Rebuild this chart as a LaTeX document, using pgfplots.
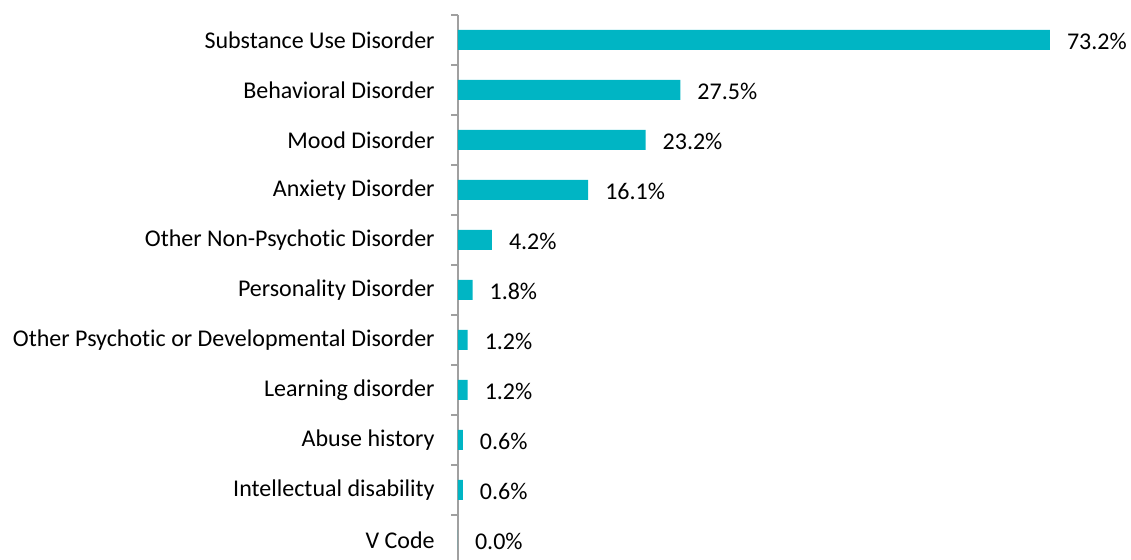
\documentclass[border=0pt]{standalone}
\usepackage{pgfplots}
\pgfplotsset{compat=1.18}
\usepackage{fontspec}
\setmainfont[Ligatures=NoCommon]{Carlito}
\definecolor{barc}{RGB}{0,181,196}
\definecolor{axc}{RGB}{160,160,160}
\begin{document}
\begin{tikzpicture}
\begin{axis}[
  at={(0,0)}, anchor=south west,
  scale only axis,
  width=323.5pt, height=275pt,
  xbar, bar width=10pt,
  xmin=0, xmax=80,
  ymin=-0.5, ymax=10.5,
  y dir=reverse,
  axis x line=none,
  axis y line*=left,
  y axis line style={draw=axc, line width=0.8pt},
  ytick={0,...,10},
  yticklabels={Substance Use Disorder,Behavioral Disorder,Mood Disorder,Anxiety Disorder,Other Non-Psychotic Disorder,Personality Disorder,Other Psychotic or Developmental Disorder,Learning disorder,Abuse history,Intellectual disability,V Code},
  major tick length=0pt,
  minor ytick={-0.5,0.5,...,10.5},
  minor tick length=3.5pt,
  tick align=outside,
  ytick pos=left,
  minor tick style={draw=axc, line width=0.8pt},
  /pgf/number format/assume math mode=true,
  yticklabel style={font=\fontsize{12}{14}\selectfont, text=black, inner sep=0pt, xshift=-11.5pt},
  nodes near coords={\pgfmathprintnumber[fixed,fixed zerofill,precision=1,assume math mode=true]{\pgfplotspointmeta}\%},
  point meta=explicit,
  nodes near coords style={font=\fontsize{12}{14}\selectfont, text=black, anchor=west, xshift=5pt, yshift=-0.5pt},
]
\addplot[fill=barc, draw=none] coordinates {
(73.2,0) [73.2]
(27.5,1) [27.5]
(23.2,2) [23.2]
(16.1,3) [16.1]
(4.2,4) [4.2]
(1.8,5) [1.8]
(1.2,6) [1.2]
(1.2,7) [1.2]
(0.6,8) [0.6]
(0.6,9) [0.6]
(0.0,10) [0.0]
};
\end{axis}
\pgfresetboundingbox
\path (-229pt,2.5pt) rectangle (336.5pt,282.5pt);
\end{tikzpicture}
\end{document}
